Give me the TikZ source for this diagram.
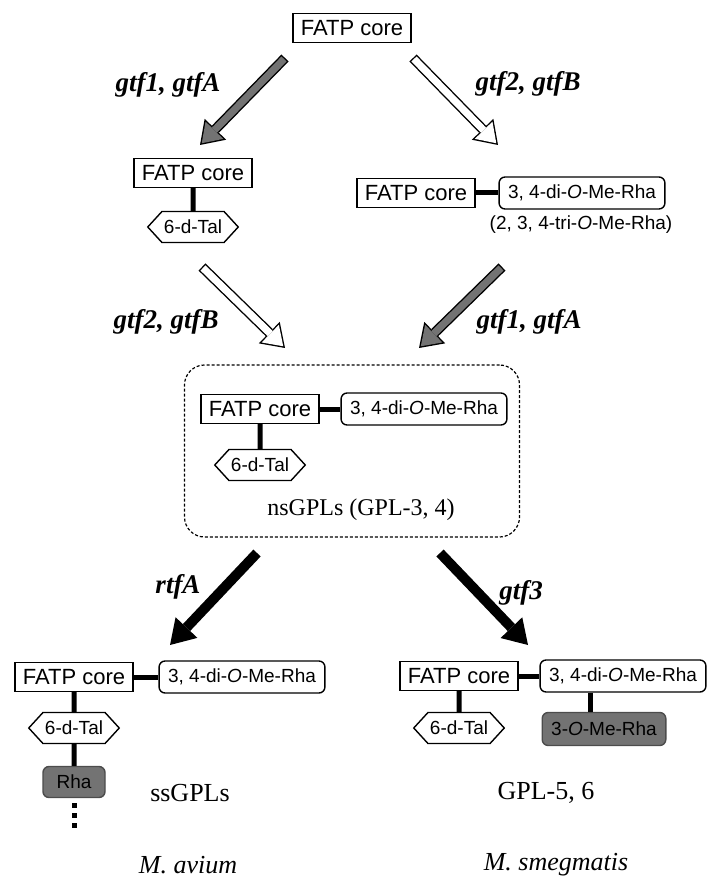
\documentclass[tikz,border=0pt]{standalone}
\usepackage{fontspec}
\setmainfont{Liberation Serif}
\setsansfont{Liberation Sans}
\usepackage{tikz}
\usetikzlibrary{arrows.meta,shapes.symbols}

\newcommand{\Om}{\textit{O}}

\begin{document}
\begin{tikzpicture}[
    x=0.5pt, y=-0.5pt,
    core/.style={draw, line width=0.7pt, inner xsep=4pt, minimum height=14.5pt, font=\fontsize{11}{13}\sffamily},
    sugar/.style={draw, line width=0.7pt, rounded corners=3pt, inner xsep=4.5pt, minimum height=16pt, font=\fontsize{9.5}{11}\sffamily},
    tal/.style={draw, line width=0.7pt, signal, signal to=west and east, signal pointer angle=95, minimum width=45pt, minimum height=15.5pt, inner xsep=1pt, font=\fontsize{9.5}{11}\sffamily},
    dark/.style={sugar, fill=black!55, draw=black!70, text=black},
    gene/.style={font=\fontsize{13.5}{16}\selectfont\bfseries\itshape},
    taxon/.style={font=\fontsize{13}{15}\selectfont},
    species/.style={font=\fontsize{13}{15}\selectfont\itshape},
    bond/.style={line width=2.5pt},
    fatarrow/.style={line width=5pt, -{Triangle[length=12pt,width=15pt,line width=0pt]}},
    openarrow/.style={preaction={draw=black, line width=5pt, shorten <=0pt, shorten >=0pt, -{Triangle[length=11pt,width=15pt,line width=0pt]}},
        draw=white, line width=3.6pt, shorten <=0.7pt, shorten >=1.24pt, -{Triangle[length=9.06pt,width=12.35pt,line width=0pt]}},
    hatcharrow/.style={openarrow, draw=black!55}
]
\useasboundingbox (0,0) rectangle (706,881);

\node[core] (c0) at (352,28) {FATP core};
\node[gene] (l1) at (168,85) {gtf1, gtfA};
\node[gene] (l2) at (528,84) {gtf2, gtfB};
\coordinate (a1s) at (285,58);
\coordinate (a1e) at (200,145);
\coordinate (a2s) at (413,58);
\coordinate (a2e) at (498,145);
\draw[hatcharrow] (a1s) -- (a1e);
\draw[openarrow] (a2s) -- (a2e);

\node[core] (c1) at (193,173) {FATP core};
\node[tal] (t1) at (193,227) {6-d-Tal};
\node[core] (c2) at (416,193) {FATP core};
\node[sugar] (r2) at (582,193) {3, 4-di-\Om-Me-Rha};
\node[font=\fontsize{9.5}{11}\sffamily] (tri) at (581,225) {(2, 3, 4-tri-\Om-Me-Rha)};
\draw[bond] (c1) -- (t1);
\draw[bond] (c2) -- (r2);

\node[gene] (l3) at (166,322) {gtf2, gtfB};
\node[gene] (l4) at (529,322) {gtf1, gtfA};
\coordinate (a3s) at (202,267);
\coordinate (a3e) at (285,348);
\coordinate (a4s) at (502,267);
\coordinate (a4e) at (419,348);
\draw[openarrow] (a3s) -- (a3e);
\draw[hatcharrow] (a4s) -- (a4e);

\node[draw, line width=0.6pt, dash pattern=on 1.5pt off 1pt, rounded corners=10pt, minimum width=167.5pt, minimum height=86pt] (ns) at (352,451) {};
\node[core] (c3) at (260,409) {FATP core};
\node[sugar] (r3) at (424,409) {3, 4-di-\Om-Me-Rha};
\node[tal] (t3) at (260,465) {6-d-Tal};
\node[font=\fontsize{12}{14}\selectfont] (nsl) at (361,510) {nsGPLs (GPL-3, 4)};
\draw[bond] (c3) -- (r3);
\draw[bond] (c3) -- (t3);

\node[gene, anchor=base] (l5) at (178,593) {rtfA};
\node[gene, anchor=base] (l6) at (521,599) {gtf3};
\coordinate (b1s) at (257,553);
\coordinate (b1e) at (170,645);
\coordinate (b2s) at (440,553);
\coordinate (b2e) at (528,645);
\draw[fatarrow] (b1s) -- (b1e);
\draw[fatarrow] (b2s) -- (b2e);

\node[core] (c4) at (74,677) {FATP core};
\node[sugar] (r4) at (242,677) {3, 4-di-\Om-Me-Rha};
\node[tal] (t4) at (74,728) {6-d-Tal};
\node[dark, minimum width=31pt, minimum height=15.5pt] (d4) at (74,782) {Rha};
\coordinate (dots) at (74,829);
\draw[bond] (c4) -- (r4);
\draw[bond] (c4) -- (t4);
\draw[bond] (t4) -- (d4);
\draw[line width=2.5pt, dash pattern=on 2.5pt off 2.5pt, dash phase=2.5pt] (d4.south) -- (dots);
\node[taxon] (ss) at (190,793) {ssGPLs};
\node[species] (av) at (188,865) {M. avium};

\node[core] (c5) at (459,676) {FATP core};
\node[sugar] (r5) at (623,676) {3, 4-di-\Om-Me-Rha};
\node[tal] (t5) at (459,728) {6-d-Tal};
\node[dark, minimum height=16.5pt] (d5) at (604,729) {3-\Om-Me-Rha};
\draw[bond] (c5) -- (r5);
\draw[bond] (c5) -- (t5);
\draw[bond] ([xshift=-16.5pt]r5.south) -- ([xshift=-7pt]d5.north);
\node[taxon] (g56) at (546,793) {GPL-5, 6};
\node[species] (sm) at (556,865) {M. smegmatis};
\end{tikzpicture}
\end{document}
